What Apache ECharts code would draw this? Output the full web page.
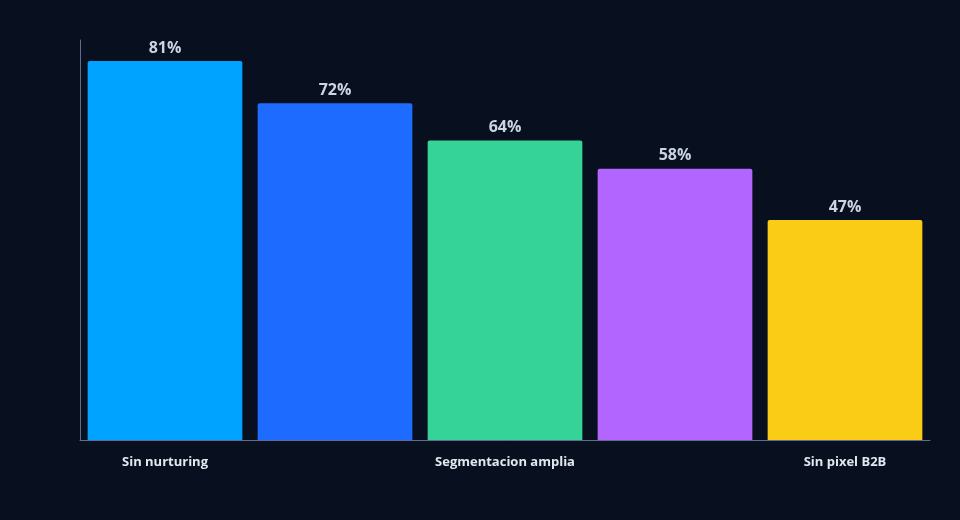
<!DOCTYPE html>
<html><head><meta charset="utf-8">
<script src="https://cdn.jsdelivr.net/npm/echarts@6/dist/echarts.min.js"></script>
<style>html,body{margin:0;background:#081020}#c{width:960px;height:520px}</style>
</head><body><div id="c"></div>
<script>
const categories = ['Sin nurturing','Landing debil','Segmentacion amplia','Creatividad generica','Sin pixel B2B'];
const values = [81,72,64,58,47];
const colors = ['#00A3FF','#1E6BFF','#36D399','#B366FF','#FACC15'];
const chart = echarts.init(document.getElementById('c'));
chart.setOption({
  backgroundColor:'#081020',
  grid:{left:80,right:30,top:40,bottom:80},
  xAxis:{type:'category',data:categories,
    axisLine:{lineStyle:{color:'#5B6E8F'}},axisTick:{show:false},
    axisLabel:{color:'#E2E8F0',fontWeight:'bold',fontSize:13,margin:16,fontFamily:'Open Sans'}},
  yAxis:{type:'value',min:0,max:85.5,axisLine:{show:true,lineStyle:{color:'#5B6E8F'}},
    axisLabel:{show:false},axisTick:{show:false},splitLine:{show:false}},
  series:[{type:'bar',barCategoryGap:'9%',
    data:values.map((v,i)=>({value:v,itemStyle:{color:colors[i],borderRadius:[2,2,0,0]}})),
    label:{show:true,position:'top',formatter:'{c}%',color:'#CBD5E1',fontWeight:'bold',fontSize:16,fontFamily:'Open Sans'}}]
});
</script></body></html>
